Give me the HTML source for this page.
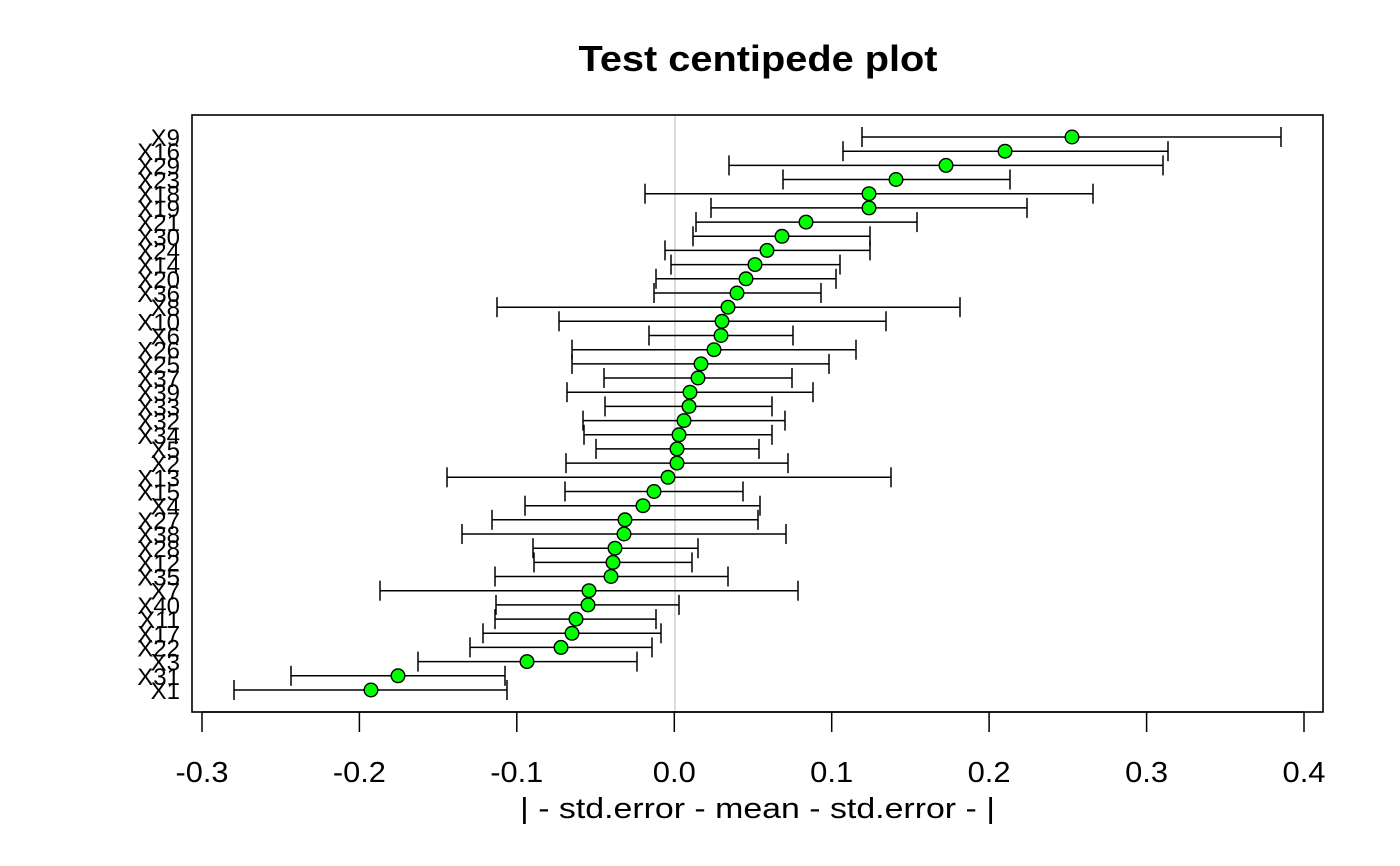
<!DOCTYPE html>
<html>
<head>
<meta charset="utf-8">
<style>
  html, body { margin: 0; padding: 0; background: #ffffff; }
  svg { display: block; }
  text { font-family: "Liberation Sans", "DejaVu Sans", sans-serif; fill: #000; }
</style>
</head>
<body>
<svg width="1400" height="866" viewBox="0 0 1400 866" xmlns="http://www.w3.org/2000/svg">
  <rect x="0" y="0" width="1400" height="866" fill="#ffffff"/>

  <text x="758" y="71" font-size="36" font-weight="bold" text-anchor="middle" textLength="359" lengthAdjust="spacingAndGlyphs">Test centipede plot</text>

  <line x1="675" y1="115" x2="675" y2="712" stroke="#d3d3d3" stroke-width="1.6"/>

  <rect x="192" y="115" width="1131" height="597" fill="none" stroke="#000" stroke-width="1.6"/>

  <g stroke="#000" stroke-width="1.5">
    <line x1="202" y1="712" x2="1304" y2="712"/>
    <line x1="202" y1="712" x2="202" y2="732"/>
    <line x1="359.4" y1="712" x2="359.4" y2="732"/>
    <line x1="516.8" y1="712" x2="516.8" y2="732"/>
    <line x1="674.3" y1="712" x2="674.3" y2="732"/>
    <line x1="831.7" y1="712" x2="831.7" y2="732"/>
    <line x1="989.1" y1="712" x2="989.1" y2="732"/>
    <line x1="1146.6" y1="712" x2="1146.6" y2="732"/>
    <line x1="1304" y1="712" x2="1304" y2="732"/>
  </g>
  <g font-size="29" text-anchor="middle">
    <text x="202" y="782" textLength="53" lengthAdjust="spacingAndGlyphs">-0.3</text>
    <text x="359.4" y="782" textLength="53" lengthAdjust="spacingAndGlyphs">-0.2</text>
    <text x="516.8" y="782" textLength="53" lengthAdjust="spacingAndGlyphs">-0.1</text>
    <text x="674.3" y="782" textLength="43" lengthAdjust="spacingAndGlyphs">0.0</text>
    <text x="831.7" y="782" textLength="43" lengthAdjust="spacingAndGlyphs">0.1</text>
    <text x="989.1" y="782" textLength="43" lengthAdjust="spacingAndGlyphs">0.2</text>
    <text x="1146.6" y="782" textLength="43" lengthAdjust="spacingAndGlyphs">0.3</text>
    <text x="1304" y="782" textLength="43" lengthAdjust="spacingAndGlyphs">0.4</text>
  </g>
  <text x="757.5" y="818" font-size="29" text-anchor="middle" textLength="475" lengthAdjust="spacingAndGlyphs">| - std.error - mean - std.error - |</text>

  <g stroke="#000" stroke-width="1.5">
    <line x1="862" y1="137.0" x2="1281" y2="137.0"/><line x1="862" y1="127.0" x2="862" y2="147.0"/><line x1="1281" y1="127.0" x2="1281" y2="147.0"/>
    <line x1="843" y1="151.2" x2="1168" y2="151.2"/><line x1="843" y1="141.2" x2="843" y2="161.2"/><line x1="1168" y1="141.2" x2="1168" y2="161.2"/>
    <line x1="729" y1="165.4" x2="1163" y2="165.4"/><line x1="729" y1="155.4" x2="729" y2="175.4"/><line x1="1163" y1="155.4" x2="1163" y2="175.4"/>
    <line x1="783" y1="179.5" x2="1010" y2="179.5"/><line x1="783" y1="169.5" x2="783" y2="189.5"/><line x1="1010" y1="169.5" x2="1010" y2="189.5"/>
    <line x1="645" y1="193.7" x2="1093" y2="193.7"/><line x1="645" y1="183.7" x2="645" y2="203.7"/><line x1="1093" y1="183.7" x2="1093" y2="203.7"/>
    <line x1="711" y1="207.9" x2="1027" y2="207.9"/><line x1="711" y1="197.9" x2="711" y2="217.9"/><line x1="1027" y1="197.9" x2="1027" y2="217.9"/>
    <line x1="696" y1="222.1" x2="917" y2="222.1"/><line x1="696" y1="212.1" x2="696" y2="232.1"/><line x1="917" y1="212.1" x2="917" y2="232.1"/>
    <line x1="693" y1="236.3" x2="870" y2="236.3"/><line x1="693" y1="226.3" x2="693" y2="246.3"/><line x1="870" y1="226.3" x2="870" y2="246.3"/>
    <line x1="665" y1="250.4" x2="870" y2="250.4"/><line x1="665" y1="240.4" x2="665" y2="260.4"/><line x1="870" y1="240.4" x2="870" y2="260.4"/>
    <line x1="671" y1="264.6" x2="840" y2="264.6"/><line x1="671" y1="254.6" x2="671" y2="274.6"/><line x1="840" y1="254.6" x2="840" y2="274.6"/>
    <line x1="656" y1="278.8" x2="836" y2="278.8"/><line x1="656" y1="268.8" x2="656" y2="288.8"/><line x1="836" y1="268.8" x2="836" y2="288.8"/>
    <line x1="654" y1="293.0" x2="821" y2="293.0"/><line x1="654" y1="283.0" x2="654" y2="303.0"/><line x1="821" y1="283.0" x2="821" y2="303.0"/>
    <line x1="497" y1="307.2" x2="960" y2="307.2"/><line x1="497" y1="297.2" x2="497" y2="317.2"/><line x1="960" y1="297.2" x2="960" y2="317.2"/>
    <line x1="559" y1="321.3" x2="886" y2="321.3"/><line x1="559" y1="311.3" x2="559" y2="331.3"/><line x1="886" y1="311.3" x2="886" y2="331.3"/>
    <line x1="649" y1="335.5" x2="793" y2="335.5"/><line x1="649" y1="325.5" x2="649" y2="345.5"/><line x1="793" y1="325.5" x2="793" y2="345.5"/>
    <line x1="572" y1="349.7" x2="856" y2="349.7"/><line x1="572" y1="339.7" x2="572" y2="359.7"/><line x1="856" y1="339.7" x2="856" y2="359.7"/>
    <line x1="572" y1="363.9" x2="829" y2="363.9"/><line x1="572" y1="353.9" x2="572" y2="373.9"/><line x1="829" y1="353.9" x2="829" y2="373.9"/>
    <line x1="604" y1="378.0" x2="792" y2="378.0"/><line x1="604" y1="368.0" x2="604" y2="388.0"/><line x1="792" y1="368.0" x2="792" y2="388.0"/>
    <line x1="567" y1="392.2" x2="813" y2="392.2"/><line x1="567" y1="382.2" x2="567" y2="402.2"/><line x1="813" y1="382.2" x2="813" y2="402.2"/>
    <line x1="605" y1="406.4" x2="772" y2="406.4"/><line x1="605" y1="396.4" x2="605" y2="416.4"/><line x1="772" y1="396.4" x2="772" y2="416.4"/>
    <line x1="583" y1="420.6" x2="785" y2="420.6"/><line x1="583" y1="410.6" x2="583" y2="430.6"/><line x1="785" y1="410.6" x2="785" y2="430.6"/>
    <line x1="584" y1="434.8" x2="772" y2="434.8"/><line x1="584" y1="424.8" x2="584" y2="444.8"/><line x1="772" y1="424.8" x2="772" y2="444.8"/>
    <line x1="596" y1="448.9" x2="759" y2="448.9"/><line x1="596" y1="438.9" x2="596" y2="458.9"/><line x1="759" y1="438.9" x2="759" y2="458.9"/>
    <line x1="566" y1="463.1" x2="788" y2="463.1"/><line x1="566" y1="453.1" x2="566" y2="473.1"/><line x1="788" y1="453.1" x2="788" y2="473.1"/>
    <line x1="447" y1="477.3" x2="891" y2="477.3"/><line x1="447" y1="467.3" x2="447" y2="487.3"/><line x1="891" y1="467.3" x2="891" y2="487.3"/>
    <line x1="565" y1="491.5" x2="743" y2="491.5"/><line x1="565" y1="481.5" x2="565" y2="501.5"/><line x1="743" y1="481.5" x2="743" y2="501.5"/>
    <line x1="525" y1="505.7" x2="760" y2="505.7"/><line x1="525" y1="495.7" x2="525" y2="515.7"/><line x1="760" y1="495.7" x2="760" y2="515.7"/>
    <line x1="492" y1="519.8" x2="758" y2="519.8"/><line x1="492" y1="509.8" x2="492" y2="529.8"/><line x1="758" y1="509.8" x2="758" y2="529.8"/>
    <line x1="462" y1="534.0" x2="786" y2="534.0"/><line x1="462" y1="524.0" x2="462" y2="544.0"/><line x1="786" y1="524.0" x2="786" y2="544.0"/>
    <line x1="533" y1="548.2" x2="698" y2="548.2"/><line x1="533" y1="538.2" x2="533" y2="558.2"/><line x1="698" y1="538.2" x2="698" y2="558.2"/>
    <line x1="534" y1="562.4" x2="692" y2="562.4"/><line x1="534" y1="552.4" x2="534" y2="572.4"/><line x1="692" y1="552.4" x2="692" y2="572.4"/>
    <line x1="495" y1="576.5" x2="728" y2="576.5"/><line x1="495" y1="566.5" x2="495" y2="586.5"/><line x1="728" y1="566.5" x2="728" y2="586.5"/>
    <line x1="380" y1="590.7" x2="798" y2="590.7"/><line x1="380" y1="580.7" x2="380" y2="600.7"/><line x1="798" y1="580.7" x2="798" y2="600.7"/>
    <line x1="496" y1="604.9" x2="679" y2="604.9"/><line x1="496" y1="594.9" x2="496" y2="614.9"/><line x1="679" y1="594.9" x2="679" y2="614.9"/>
    <line x1="495" y1="619.1" x2="656" y2="619.1"/><line x1="495" y1="609.1" x2="495" y2="629.1"/><line x1="656" y1="609.1" x2="656" y2="629.1"/>
    <line x1="483" y1="633.3" x2="661" y2="633.3"/><line x1="483" y1="623.3" x2="483" y2="643.3"/><line x1="661" y1="623.3" x2="661" y2="643.3"/>
    <line x1="470" y1="647.4" x2="652" y2="647.4"/><line x1="470" y1="637.4" x2="470" y2="657.4"/><line x1="652" y1="637.4" x2="652" y2="657.4"/>
    <line x1="418" y1="661.6" x2="637" y2="661.6"/><line x1="418" y1="651.6" x2="418" y2="671.6"/><line x1="637" y1="651.6" x2="637" y2="671.6"/>
    <line x1="291" y1="675.8" x2="505" y2="675.8"/><line x1="291" y1="665.8" x2="291" y2="685.8"/><line x1="505" y1="665.8" x2="505" y2="685.8"/>
    <line x1="234" y1="690.0" x2="507" y2="690.0"/><line x1="234" y1="680.0" x2="234" y2="700.0"/><line x1="507" y1="680.0" x2="507" y2="700.0"/>
  </g>

  <g fill="#00ff00" stroke="#000" stroke-width="1.4">
    <circle cx="1072" cy="137.0" r="6.8"/>
    <circle cx="1005" cy="151.2" r="6.8"/>
    <circle cx="946" cy="165.4" r="6.8"/>
    <circle cx="896" cy="179.5" r="6.8"/>
    <circle cx="869" cy="193.7" r="6.8"/>
    <circle cx="869" cy="207.9" r="6.8"/>
    <circle cx="806" cy="222.1" r="6.8"/>
    <circle cx="782" cy="236.3" r="6.8"/>
    <circle cx="767" cy="250.4" r="6.8"/>
    <circle cx="755" cy="264.6" r="6.8"/>
    <circle cx="746" cy="278.8" r="6.8"/>
    <circle cx="737" cy="293.0" r="6.8"/>
    <circle cx="728" cy="307.2" r="6.8"/>
    <circle cx="722" cy="321.3" r="6.8"/>
    <circle cx="721" cy="335.5" r="6.8"/>
    <circle cx="714" cy="349.7" r="6.8"/>
    <circle cx="701" cy="363.9" r="6.8"/>
    <circle cx="698" cy="378.0" r="6.8"/>
    <circle cx="690" cy="392.2" r="6.8"/>
    <circle cx="689" cy="406.4" r="6.8"/>
    <circle cx="684" cy="420.6" r="6.8"/>
    <circle cx="679" cy="434.8" r="6.8"/>
    <circle cx="677" cy="448.9" r="6.8"/>
    <circle cx="677" cy="463.1" r="6.8"/>
    <circle cx="668" cy="477.3" r="6.8"/>
    <circle cx="654" cy="491.5" r="6.8"/>
    <circle cx="643" cy="505.7" r="6.8"/>
    <circle cx="625" cy="519.8" r="6.8"/>
    <circle cx="624" cy="534.0" r="6.8"/>
    <circle cx="615" cy="548.2" r="6.8"/>
    <circle cx="613" cy="562.4" r="6.8"/>
    <circle cx="611" cy="576.5" r="6.8"/>
    <circle cx="589" cy="590.7" r="6.8"/>
    <circle cx="588" cy="604.9" r="6.8"/>
    <circle cx="576" cy="619.1" r="6.8"/>
    <circle cx="572" cy="633.3" r="6.8"/>
    <circle cx="561" cy="647.4" r="6.8"/>
    <circle cx="527" cy="661.6" r="6.8"/>
    <circle cx="398" cy="675.8" r="6.8"/>
    <circle cx="371" cy="690.0" r="6.8"/>
  </g>

  <g font-size="24" text-anchor="end">
    <text x="180" y="146.0">X9</text>
    <text x="180" y="160.2">X16</text>
    <text x="180" y="174.4">X29</text>
    <text x="180" y="188.5">X23</text>
    <text x="180" y="202.7">X18</text>
    <text x="180" y="216.9">X19</text>
    <text x="180" y="231.1">X21</text>
    <text x="180" y="245.3">X30</text>
    <text x="180" y="259.4">X24</text>
    <text x="180" y="273.6">X14</text>
    <text x="180" y="287.8">X20</text>
    <text x="180" y="302.0">X36</text>
    <text x="180" y="316.2">X8</text>
    <text x="180" y="330.3">X10</text>
    <text x="180" y="344.5">X6</text>
    <text x="180" y="358.7">X26</text>
    <text x="180" y="372.9">X25</text>
    <text x="180" y="387.0">X37</text>
    <text x="180" y="401.2">X39</text>
    <text x="180" y="415.4">X33</text>
    <text x="180" y="429.6">X32</text>
    <text x="180" y="443.8">X34</text>
    <text x="180" y="457.9">X5</text>
    <text x="180" y="472.1">X2</text>
    <text x="180" y="486.3">X13</text>
    <text x="180" y="500.5">X15</text>
    <text x="180" y="514.7">X4</text>
    <text x="180" y="528.8">X27</text>
    <text x="180" y="543.0">X38</text>
    <text x="180" y="557.2">X28</text>
    <text x="180" y="571.4">X12</text>
    <text x="180" y="585.5">X35</text>
    <text x="180" y="599.7">X7</text>
    <text x="180" y="613.9">X40</text>
    <text x="180" y="628.1">X11</text>
    <text x="180" y="642.3">X17</text>
    <text x="180" y="656.4">X22</text>
    <text x="180" y="670.6">X3</text>
    <text x="180" y="684.8">X31</text>
    <text x="180" y="699.0">X1</text>
  </g>
</svg>
</body>
</html>
